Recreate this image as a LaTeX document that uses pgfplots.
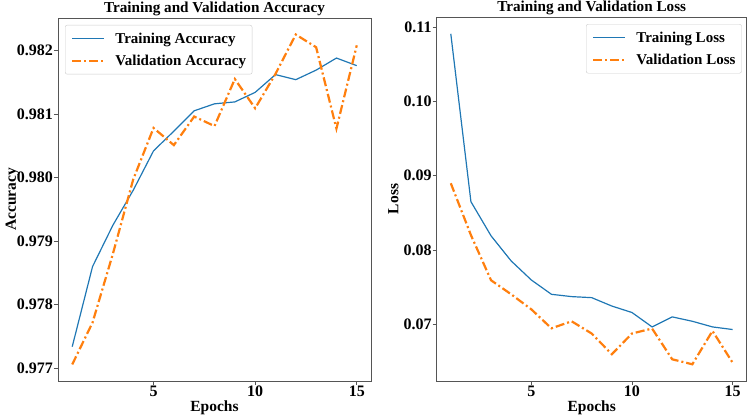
\documentclass[border=0pt]{standalone}
\usepackage{pgfplots}
\pgfplotsset{compat=1.18}
\usepackage{fontspec}
\setmainfont{Liberation Serif}
\definecolor{mblue}{HTML}{1F77B4}
\definecolor{morange}{HTML}{FF7F0E}
\definecolor{spine}{HTML}{555555}
\pgfplotstableread{
ep tacc vacc tloss vloss
1 0.97734 0.97706 0.1091 0.08898
2 0.97860 0.97772 0.0865 0.0820
3 0.97925 0.97880 0.0819 0.07592
4 0.97980 0.97997 0.07852 0.07403
5 0.98042 0.98078 0.07596 0.07201
6 0.98073 0.98051 0.07403 0.06945
7 0.98105 0.98096 0.07372 0.07040
8 0.98116 0.98081 0.07358 0.06875
9 0.98119 0.98155 0.07245 0.06596
10 0.98134 0.98109 0.07158 0.06875
11 0.98162 0.98163 0.06964 0.06942
12 0.98154 0.98225 0.07099 0.06528
13 0.98169 0.98205 0.07040 0.06461
14 0.98188 0.98077 0.06964 0.06910
15 0.98176 0.98208 0.06929 0.06483
}\data
\begin{document}
\begin{tikzpicture}
\path[use as bounding box] (0pt,0pt) rectangle (750pt,420pt);
\pgfplotsset{
 common/.style={
  scale only axis,
  /pgf/number format/assume math mode=true,
  tick label style={font=\bfseries\fontsize{16}{19}\selectfont},
  xticklabel style={inner sep=1pt},
  yticklabel style={inner sep=1pt},
  label style={font=\bfseries\fontsize{15.5}{19}\selectfont},
  xlabel style={at={(axis description cs:0.5,0)}, anchor=base, yshift=-30.5pt},
  title style={font=\bfseries\fontsize{15.2}{18}\selectfont, at={(axis description cs:0.5,1)}, anchor=base, yshift=-0.5pt, inner sep=0pt},
  axis line style={spine, line width=0.8pt},
  tick style={spine, line width=0.8pt},
  tick align=outside, major tick length=4pt,
  xtick pos=left, ytick pos=left,
  xmin=0.3, xmax=15.7, xtick={5,10,15},
  scaled y ticks=false,
  xlabel={Epochs},
  legend cell align=left,
  legend style={draw=black!20, rounded corners=2pt, font=\bfseries\fontsize{15}{18}\selectfont,
    inner xsep=6pt, inner ysep=2.5pt, /tikz/column sep=10pt,
    nodes={inner xsep=0pt, inner ysep=2pt, text height=13.5pt, text depth=4.5pt}},
  legend image code/.code={\draw[##1] (0pt,0pt) -- (32pt,0pt);},
 },
 tr/.style={mblue, line width=1.2pt},
 va/.style={morange, line width=2.2pt, dash pattern=on 9pt off 3pt on 2pt off 3pt},
}
\begin{axis}[common, at={(58pt,39pt)}, anchor=south west, width=313pt, height=363pt,
  ymin=0.9768, ymax=0.98251,
  ytick={0.977,0.978,0.979,0.980,0.981,0.982},
  yticklabel style={/pgf/number format/fixed, /pgf/number format/precision=3, /pgf/number format/fixed zerofill},
  ylabel={Accuracy},
  ylabel style={at={([xshift=-42pt]axis description cs:0,0.5)}, anchor=base},
  title={Training and Validation Accuracy},
  legend style={at={(0,1)}, anchor=north west, xshift=7pt, yshift=-7pt}]
\addplot[tr] table[x=ep, y=tacc] {\data};
\addlegendentry{Training Accuracy}
\addplot[va] table[x=ep, y=vacc] {\data};
\addlegendentry{Validation Accuracy}
\end{axis}
\begin{axis}[common, at={(436.7pt,39pt)}, anchor=south west, width=310pt, height=364pt,
  ymin=0.06236, ymax=0.11136,
  ytick={0.07,0.08,0.09,0.10,0.11},
  yticklabel style={/pgf/number format/fixed, /pgf/number format/precision=2, /pgf/number format/fixed zerofill},
  ylabel={Loss},
  ylabel style={at={([xshift=-38.4pt]axis description cs:0,0.5)}, anchor=base},
  title={Training and Validation Loss},
  legend style={at={(1,1)}, anchor=north east, xshift=-5pt, yshift=-7pt}]
\addplot[tr] table[x=ep, y=tloss] {\data};
\addlegendentry{Training Loss}
\addplot[va] table[x=ep, y=vloss] {\data};
\addlegendentry{Validation Loss}
\end{axis}
\end{tikzpicture}
\end{document}
